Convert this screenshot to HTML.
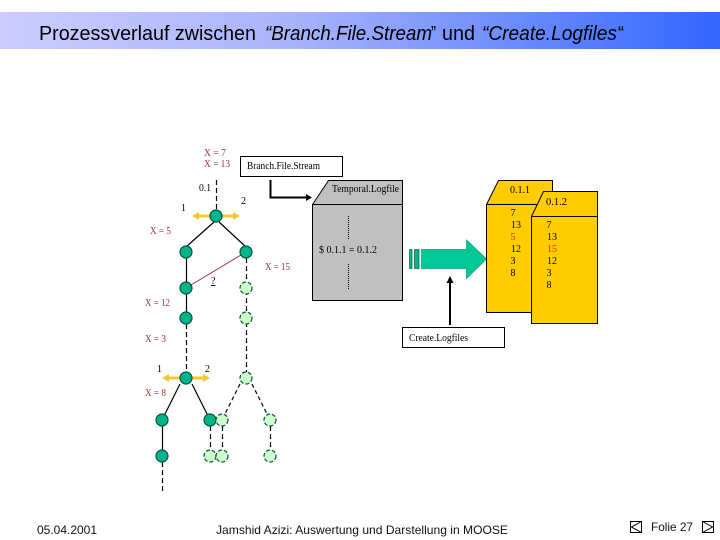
<!DOCTYPE html>
<html>
<head>
<meta charset="utf-8">
<style>
html,body{margin:0;padding:0;background:#fff;width:720px;height:540px;overflow:hidden}
svg{display:block}
text{white-space:pre}
.s{font-family:"Liberation Serif",serif;font-size:10px;fill:#000}
.x{font-family:"Liberation Serif",serif;font-size:10px;fill:#993333}
.f{font-family:"Liberation Sans",sans-serif;font-size:12px;fill:#111}
.h{font-family:"Liberation Sans",sans-serif;font-size:20px;fill:#000}
.g{fill:#00b48c;stroke:#04513a;stroke-width:1.200}
.l{fill:#ccffcc;stroke:#04513a;stroke-width:1.200;stroke-dasharray:4 2}
.d{stroke:#000;stroke-width:1.200;stroke-dasharray:5 3;fill:none}
.t{stroke:#000;stroke-width:1.200;fill:none}
</style>
</head>
<body>
<svg width="720" height="540" viewBox="0 0 720 540" xmlns="http://www.w3.org/2000/svg">
<defs>
<linearGradient id="hg" x1="0" x2="1" y1="0" y2="0">
<stop offset="0" stop-color="#ccccff"/>
<stop offset="0.4" stop-color="#aab4fb"/>
<stop offset="1" stop-color="#3366ff"/>
</linearGradient>
</defs>
<rect x="0" y="12" width="720" height="37" fill="url(#hg)"/>
<text class="h" x="39" y="40" textLength="217" lengthAdjust="spacingAndGlyphs">Prozessverlauf zwischen</text>
<text class="h" x="265" y="40" font-style="italic" textLength="167" lengthAdjust="spacingAndGlyphs">“Branch.File.Stream</text>
<text class="h" x="431" y="40" textLength="5" lengthAdjust="spacingAndGlyphs">”</text>
<text class="h" x="442" y="40" textLength="33" lengthAdjust="spacingAndGlyphs">und</text>
<text class="h" x="482" y="40" font-style="italic" textLength="135" lengthAdjust="spacingAndGlyphs">“Create.Logfiles</text>
<text class="h" x="618" y="40" textLength="6" lengthAdjust="spacingAndGlyphs">“</text>

<!-- red labels -->
<text class="x" x="204" y="156" textLength="22" lengthAdjust="spacingAndGlyphs">X = 7</text>
<text class="x" x="204" y="167" textLength="26" lengthAdjust="spacingAndGlyphs">X = 13</text>
<text class="x" x="150" y="234" textLength="21" lengthAdjust="spacingAndGlyphs">X = 5</text>
<text class="x" x="265" y="270" textLength="25" lengthAdjust="spacingAndGlyphs">X = 15</text>
<text class="x" x="145" y="306" textLength="25" lengthAdjust="spacingAndGlyphs">X = 12</text>
<text class="x" x="145" y="342" textLength="21" lengthAdjust="spacingAndGlyphs">X = 3</text>
<text class="x" x="145" y="396" textLength="21" lengthAdjust="spacingAndGlyphs">X = 8</text>

<!-- tree lines -->
<path class="d" d="M216.500 180V210"/>
<path class="t" d="M214 222L186 247M219 222L246 247M186.500 258V318"/>
<path d="M186 288L246 252" stroke="#993355" stroke-width="1" fill="none"/>
<path class="d" d="M246.500 258V378"/>
<path class="d" d="M186.500 324V378"/>
<path class="t" d="M180 384L162 420M192 384L210 420M162.500 426V456"/>
<path d="M240 384L222 420M252 384L270 420" stroke="#000" stroke-width="1.200" stroke-dasharray="4 3" fill="none"/>
<path class="d" d="M210.500 426V456M222.500 426V456M270.500 426V456M162.500 462V494"/>

<!-- yellow arrows -->
<g stroke="#f3c832" stroke-width="3" fill="#f3c832">
<path d="M196 216H236" fill="none"/>
<path d="M192 216l7-4v8zM240 216l-7-4v8z" stroke="none"/>
<path d="M166 378H206" fill="none"/>
<path d="M162 378l7-4v8zM210 378l-7-4v8z" stroke="none"/>
</g>

<!-- nodes -->
<g>
<circle class="g" cx="216" cy="216" r="6"/>
<circle class="g" cx="186" cy="252" r="6"/>
<circle class="g" cx="246" cy="252" r="6"/>
<circle class="g" cx="186" cy="288" r="6"/>
<circle class="g" cx="186" cy="318" r="6"/>
<circle class="g" cx="186" cy="378" r="6"/>
<circle class="g" cx="162" cy="420" r="6"/>
<circle class="g" cx="210" cy="420" r="6"/>
<circle class="g" cx="162" cy="456" r="6"/>
<circle class="l" cx="246" cy="288" r="6"/>
<circle class="l" cx="246" cy="318" r="6"/>
<circle class="l" cx="246" cy="378" r="6"/>
<circle class="l" cx="222" cy="420" r="6"/>
<circle class="l" cx="270" cy="420" r="6"/>
<circle class="l" cx="210" cy="456" r="6"/>
<circle class="l" cx="222" cy="456" r="6"/>
<circle class="l" cx="270" cy="456" r="6"/>
</g>

<!-- tree labels -->
<text class="s" x="199" y="191" textLength="12" lengthAdjust="spacingAndGlyphs">0.1</text>
<text class="s" x="241" y="204">2</text>
<text class="s" x="181" y="211">1</text>
<text class="s" x="211" y="284" text-decoration="underline">?</text>
<text class="s" x="157" y="372">1</text>
<text class="s" x="205" y="372">2</text>

<!-- Branch.File.Stream -->
<rect x="240.500" y="156.500" width="102" height="20" fill="#fff" stroke="#000" stroke-width="1"/>
<text class="s" x="247" y="169" textLength="73" lengthAdjust="spacingAndGlyphs">Branch.File.Stream</text>
<path d="M270.500 180V197.500H306" stroke="#000" stroke-width="2" fill="none"/>
<path d="M312 197.500l-6-3.500v7z" fill="#000"/>

<!-- Temporal.Logfile -->
<path d="M312.500 204.500L328.500 180.500H402.500V300.500H312.500Z" fill="#c0c0c0" stroke="#000" stroke-width="1"/>
<path d="M312.500 204.500H402.500" stroke="#000" stroke-width="1"/>
<text class="s" x="332" y="192" textLength="67" lengthAdjust="spacingAndGlyphs">Temporal.Logfile</text>
<path d="M348.500 216V240M348.500 264V289" stroke="#000" stroke-width="1" stroke-dasharray="1 1"/>
<text class="s" x="319" y="253" textLength="58" lengthAdjust="spacingAndGlyphs">$ 0.1.1 = 0.1.2</text>

<!-- big arrow -->
<rect x="409.500" y="249.500" width="2.500" height="19" fill="#00b48c" stroke="#063" stroke-width="0.700"/>
<rect x="414.500" y="249.500" width="4.500" height="19" fill="#00b48c" stroke="#063" stroke-width="0.700"/>
<path d="M421.500 249.500H466.500V240L486.500 259L466.500 278.500V268.500H421.500Z" fill="#00c896" stroke="#00a078" stroke-width="0.700"/>

<!-- Create arrow -->
<path d="M450 325V281" stroke="#000" stroke-width="2"/>
<path d="M450 276l-3.500 7h7z" fill="#000"/>
<rect x="402.500" y="327.500" width="102" height="20" fill="#fff" stroke="#000" stroke-width="1"/>
<text class="s" x="409" y="341" textLength="59" lengthAdjust="spacingAndGlyphs">Create.Logfiles</text>

<!-- yellow docs -->
<path d="M486.500 204.500L498.500 180.500H552.500V312.500H486.500Z" fill="#ffcc00" stroke="#000" stroke-width="1"/>
<path d="M486.500 204.500H552.500" stroke="#000" stroke-width="1"/>
<text class="s" x="510" y="193" textLength="20" lengthAdjust="spacingAndGlyphs">0.1.1</text>
<g class="s" text-anchor="middle">
<text class="s" x="513" y="216">7</text>
<text class="s" x="516" y="228">13</text>
<text class="s" x="513" y="240" style="fill:#dd3300">5</text>
<text class="s" x="516" y="252">12</text>
<text class="s" x="513" y="264">3</text>
<text class="s" x="513" y="276">8</text>
</g>
<path d="M531.500 216.500L543.500 191.500H597.500V323.500H531.500Z" fill="#ffcc00" stroke="#000" stroke-width="1"/>
<path d="M531.500 216.500H597.500" stroke="#000" stroke-width="1"/>
<text class="s" x="546" y="205" textLength="21" lengthAdjust="spacingAndGlyphs">0.1.2</text>
<g class="s" text-anchor="middle">
<text class="s" x="549" y="228">7</text>
<text class="s" x="552" y="240">13</text>
<text class="s" x="552" y="252" style="fill:#dd3300">15</text>
<text class="s" x="552" y="264">12</text>
<text class="s" x="549" y="276">3</text>
<text class="s" x="549" y="288">8</text>
</g>

<!-- footer -->
<text class="f" x="37" y="534" textLength="60" lengthAdjust="spacingAndGlyphs">05.04.2001</text>
<text class="f" x="216" y="534" textLength="292" lengthAdjust="spacingAndGlyphs">Jamshid Azizi: Auswertung und Darstellung in MOOSE</text>
<text class="f" x="651" y="531" textLength="42" lengthAdjust="spacingAndGlyphs">Folie 27</text>
<rect x="630.500" y="521.500" width="11" height="11" fill="#fff" stroke="#000" stroke-width="1"/>
<path d="M640.500 522L631.500 527L640.500 532" fill="none" stroke="#000" stroke-width="1"/>
<rect x="702.500" y="521.500" width="11" height="11" fill="#fff" stroke="#000" stroke-width="1"/>
<path d="M703.500 522L712.500 527L703.500 532" fill="none" stroke="#000" stroke-width="1"/>
</svg>
</body>
</html>
